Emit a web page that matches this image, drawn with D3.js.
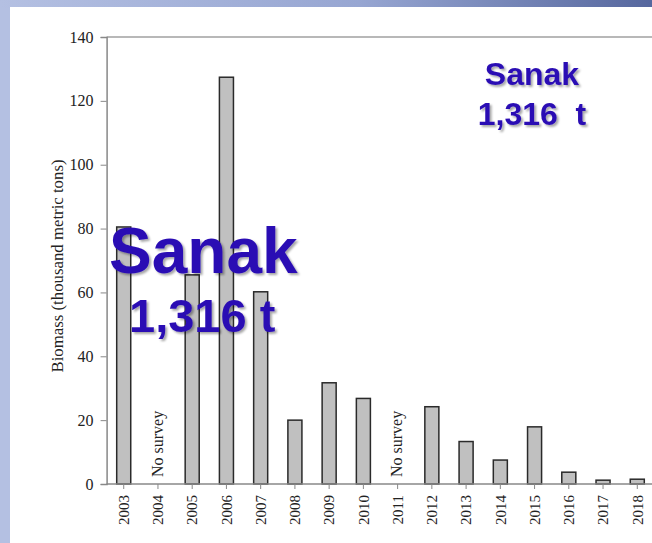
<!DOCTYPE html>
<html>
<head>
<meta charset="utf-8">
<script src="https://cdn.jsdelivr.net/npm/d3@7"></script>
<style>
  body { margin: 0; background: #fff; }
  svg { display: block; }
</style>
</head>
<body>
<svg width="652" height="543"></svg>
<script>
// survey years and biomass (thousand metric tons), null = no survey
const years = ["2003","2004","2005","2006","2007","2008","2009","2010","2011","2012","2013","2014","2015","2016","2017","2018"];
const biomass = [80.5, null, 65.5, 127.4, 60.2, 20.0, 31.7, 26.8, null, 24.2, 13.3, 7.5, 17.9, 3.7, 1.2, 1.5];
const yTicks = [0, 20, 40, 60, 80, 100, 120, 140];
const noSurveyLabel = "No survey";
const yTitle = "Biomass (thousand metric tons)";
const calloutName = "Sanak";
const calloutBig = "1,316 t";
const calloutSmall = "1,316  t";

const svg = d3.select("svg");

// slide background
const defs = svg.append("defs");
const grad = defs.append("linearGradient").attr("id", "topbar");
grad.append("stop").attr("offset", "0%").attr("stop-color", "#b4c0e2");
grad.append("stop").attr("offset", "55%").attr("stop-color", "#97a6d2");
grad.append("stop").attr("offset", "100%").attr("stop-color", "#56679e");
const shadow = defs.append("filter").attr("id", "shadow")
    .attr("x", "-10%").attr("y", "-10%").attr("width", "130%").attr("height", "140%");
shadow.append("feDropShadow").attr("dx", 2).attr("dy", 2).attr("stdDeviation", 1.2)
    .attr("flood-color", "#000").attr("flood-opacity", 0.35);

svg.append("rect").attr("width", 652).attr("height", 543).attr("fill", "#b4c0e2");
svg.append("rect").attr("width", 652).attr("height", 8).attr("fill", "url(#topbar)");
svg.append("rect").attr("x", 10).attr("y", 7).attr("width", 642).attr("height", 536).attr("fill", "#fff");

const x = d3.scaleBand()
    .domain(years)
    .range([106.6, 654.4])
    .paddingInner(0.59)
    .paddingOuter(0.295);

const y = d3.scaleLinear()
    .domain([0, 140])
    .range([484, 37]);

const serif = "'Liberation Serif', 'Times New Roman', serif";

// top frame line
svg.append("line")
    .attr("x1", x.range()[0]).attr("x2", 652)
    .attr("y1", y(140)).attr("y2", y(140))
    .attr("stroke", "#a0a0a0").attr("stroke-width", 1.5);

// bars
svg.append("g").selectAll("rect")
    .data(years.map((yr, i) => ({ yr, v: biomass[i] })).filter(d => d.v !== null))
    .enter().append("rect")
    .attr("x", d => x(d.yr))
    .attr("y", d => y(d.v))
    .attr("width", x.bandwidth())
    .attr("height", d => y(0) - y(d.v))
    .attr("fill", "#c0c0c0")
    .attr("stroke", "#2a2a2a")
    .attr("stroke-width", 1.5);

// y axis
const yAxis = svg.append("g")
    .attr("transform", "translate(" + x.range()[0] + ",0)")
    .call(d3.axisLeft(y).tickValues(yTicks).tickSize(6).tickPadding(7));
yAxis.select(".domain").attr("stroke", "#888").attr("stroke-width", 1.5);
yAxis.selectAll(".tick line").attr("stroke", "#888");
yAxis.selectAll(".tick text")
    .attr("font-family", serif).attr("font-size", 16).attr("fill", "#222");

// x axis
const xAxis = svg.append("g")
    .attr("transform", "translate(0," + y(0) + ")")
    .call(d3.axisBottom(x).tickSize(5).tickSizeOuter(0));
xAxis.select(".domain").attr("stroke", "#888").attr("stroke-width", 1.5)
    .attr("d", "M" + x.range()[0] + ",0H652");
xAxis.selectAll(".tick line").attr("stroke", "#888");
xAxis.selectAll(".tick text")
    .attr("font-family", serif).attr("font-size", 15).attr("fill", "#222")
    .attr("transform", "rotate(-90)")
    .attr("text-anchor", "end")
    .attr("x", -11).attr("y", 0).attr("dy", "0.35em");

// "No survey" labels
svg.append("g").selectAll("text")
    .data(years.filter((yr, i) => biomass[i] === null))
    .enter().append("text")
    .attr("transform", d => "translate(" + (x(d) + x.bandwidth() / 2 - 1) + "," + (y(0) - 7) + ") rotate(-90)")
    .attr("dy", "0.35em")
    .attr("font-family", serif).attr("font-size", 16).attr("fill", "#222")
    .text(noSurveyLabel);

// y title
svg.append("text")
    .attr("transform", "translate(57,266) rotate(-90)")
    .attr("text-anchor", "middle")
    .attr("dy", "0.35em")
    .attr("font-family", serif).attr("font-size", 16.8).attr("fill", "#222")
    .text(yTitle);

// callouts
const blue = "#2c10b4";
const sans = "'Liberation Sans', Arial, sans-serif";
const big = svg.append("g").attr("filter", "url(#shadow)")
    .attr("font-family", sans).attr("font-weight", "bold").attr("fill", blue);
big.append("text").attr("x", 109).attr("y", 273).attr("font-size", 64).text(calloutName);
big.append("text").attr("x", 129).attr("y", 332).attr("font-size", 47).text(calloutBig);

const small = svg.append("g").attr("filter", "url(#shadow)")
    .attr("font-family", sans).attr("font-weight", "bold").attr("fill", blue)
    .attr("text-anchor", "middle").attr("font-size", 32);
small.append("text").attr("x", 532).attr("y", 85).text(calloutName);
small.append("text").attr("x", 532).attr("y", 125).style("white-space", "pre").text(calloutSmall);
</script>
</body>
</html>
